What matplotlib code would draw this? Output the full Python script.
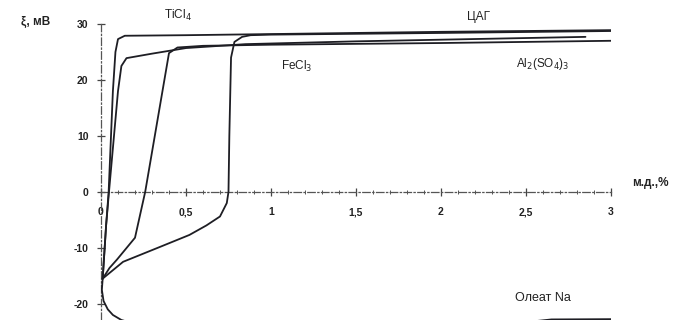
import numpy as np
import matplotlib.pyplot as plt

plt.rcParams['font.family'] = ['Liberation Sans', 'DejaVu Sans']
plt.rcParams['axes.unicode_minus'] = False

# zeta potential (mV) vs additive mass fraction (%)
ticl4_x = [0.01, 0.03, 0.045, 0.07, 0.085, 0.1, 0.14, 0.5, 1.0, 2.0, 3.0]
ticl4_y = [-15.5, -6, 0, 18, 25, 27.3, 27.9, 28.0, 28.2, 28.6, 28.9]

cag_x = [0.01, 0.03, 0.047, 0.1, 0.12, 0.15, 0.3, 0.5, 0.85, 1.5, 2.85]
cag_y = [-15.5, -6, 0, 18, 22.5, 23.9, 24.7, 25.7, 26.4, 26.9, 27.7]

al_x = [0.01, 0.05, 0.094, 0.2, 0.26, 0.40, 0.45, 0.6, 1.0, 2.0, 3.0]
al_y = [-15.5, -13.6, -12.1, -8.2, 0, 24.8, 25.8, 26.1, 26.3, 26.6, 27.0]

fe_x = [0.01, 0.13, 0.35, 0.52, 0.62, 0.7, 0.74, 0.75, 0.755, 0.765, 0.785, 0.83, 0.88, 1.0, 2.0, 3.0]
fe_y = [-15.5, -12.5, -9.8, -7.7, -6.0, -4.4, -2.0, 0, 10, 24, 26.8, 27.7, 28.0, 28.1, 28.4, 28.75]

oleat_x = [0.01, 0.005, 0.015, 0.04, 0.07, 0.12, 0.2, 1.0, 2.4, 2.65, 3.0]
oleat_y = [-15.5, -17.5, -19.5, -21.0, -22.0, -22.9, -23.6, -24.2, -23.6, -22.8, -22.75]

xticks = [0, 0.5, 1, 1.5, 2, 2.5, 3]
xticklabels = ['0', '0,5', '1', '1,5', '2', '2,5', '3']
yticks = [-20, -10, 0, 10, 20, 30]

fig = plt.figure(figsize=(6.76, 3.2), dpi=100)
ax = fig.add_axes([0.1494, 0.0, 0.7544, 0.925])

for xs, ys in [(ticl4_x, ticl4_y), (cag_x, cag_y), (al_x, al_y), (fe_x, fe_y), (oleat_x, oleat_y)]:
    ax.plot(xs, ys, color='#1e1e24', lw=1.3, solid_capstyle='round', zorder=3)

ax.set_xlim(0, 3)
ax.set_ylim(-22.9, 30)

for s in ['top', 'right']:
    ax.spines[s].set_visible(False)
ax.spines['bottom'].set_position(('data', 0))
ax.spines['left'].set_position(('data', 0))
for s in ['bottom', 'left']:
    ax.spines[s].set_color('#555555')
    ax.spines[s].set_linestyle((0, (6, 2, 1, 2)))
    ax.spines[s].set_linewidth(0.9)

ax.set_xticks(xticks)
ax.set_xticklabels(xticklabels)
ax.set_xticks(np.arange(0.1, 3.0, 0.1), minor=True)
ax.set_yticks(yticks)
ax.tick_params(axis='x', which='major', direction='inout', length=6, width=0.9,
               colors='#444444', labelsize=7.5, labelcolor='#222222', pad=8)
ax.tick_params(axis='x', which='minor', direction='inout', length=3, width=0.7, colors='#555555')
ax.tick_params(axis='y', direction='inout', length=6, width=0.9,
               colors='#444444', labelsize=7.5, labelcolor='#222222', pad=6)
for lab in ax.get_xticklabels() + ax.get_yticklabels():
    lab.set_fontweight('bold')

txt = dict(fontsize=8.5, color='#222222', ha='center', va='center')
ax.text(0.45, 31.5, 'TiCl$_4$', **txt, clip_on=False)
ax.text(2.22, 31.2, 'ЦАГ', **txt)
ax.text(1.15, 22.5, 'FeCl$_3$', **txt)
ax.text(2.6, 22.8, 'Al$_2$(SO$_4$)$_3$', **txt)
ax.text(2.6, -18.9, 'Олеат Na', fontsize=9, color='#222222', ha='center', va='center')
fig.text(0.052, 0.93, 'ξ, мВ', fontsize=8.5, color='#222222', ha='center', va='center',
         fontweight='bold')
fig.text(0.962, 0.428, 'м.д.,%', fontsize=8.5, color='#222222', ha='center', va='center',
         fontweight='bold')

fig.savefig('out.png', dpi=100)
